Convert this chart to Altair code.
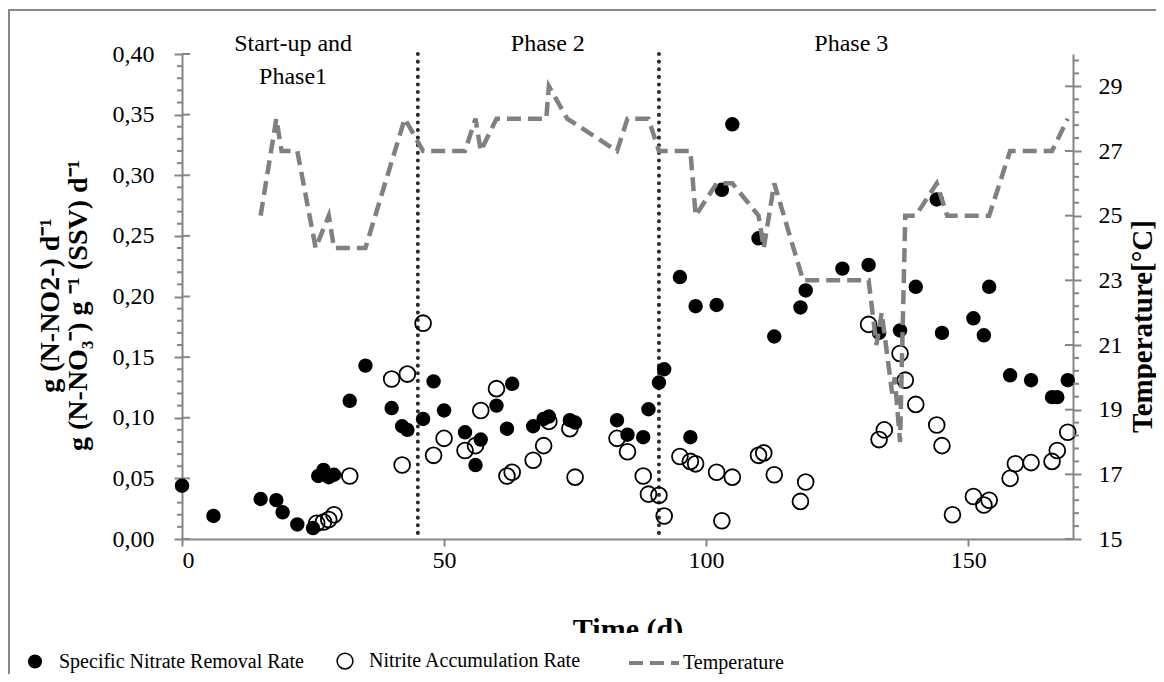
import altair as alt
import pandas as pd

# ---------------- data ----------------
S1 = "Specific Nitrate Removal Rate"
S2 = "Nitrite Accumulation Rate"
S3 = "Temperature"

nitrate_days = [0, 6, 15, 18, 19.2, 22, 25, 26, 27, 28, 29,
                32, 35, 40, 42, 43, 46, 48, 50,
                54, 56, 57, 60, 62, 63, 67, 69, 70, 74, 75,
                83, 85, 88, 89, 91, 92, 95, 97, 98, 102, 103, 105,
                110, 113, 118, 119, 126, 131, 133, 137, 140, 144, 145,
                151, 153, 154, 158, 162, 166, 167, 169]
nitrate_vals = [0.044, 0.019, 0.033, 0.032, 0.022, 0.012, 0.009, 0.052, 0.057, 0.051, 0.053,
                0.114, 0.143, 0.108, 0.093, 0.090, 0.099, 0.130, 0.106,
                0.088, 0.061, 0.082, 0.110, 0.091, 0.128, 0.093, 0.099, 0.101, 0.098, 0.096,
                0.098, 0.086, 0.084, 0.107, 0.129, 0.140, 0.216, 0.084, 0.192, 0.193, 0.288, 0.342,
                0.248, 0.167, 0.191, 0.205, 0.223, 0.226, 0.170, 0.172, 0.208, 0.280, 0.170,
                0.182, 0.168, 0.208, 0.135, 0.131, 0.117, 0.117, 0.131]

nitrite_days = [25.7, 27, 28, 29, 32,
                40, 42, 43, 46, 48, 50,
                54, 56, 57, 60, 62, 63, 67, 69, 70, 74, 75,
                83, 85, 88, 89, 91, 92,
                95, 97, 98, 102, 103, 105,
                110, 111, 113, 118, 119,
                131, 133, 134, 137, 138, 140,
                144, 145, 147, 151, 153, 154,
                158, 159, 162, 166, 167, 169]
nitrite_vals = [0.013, 0.014, 0.016, 0.020, 0.052,
                0.132, 0.061, 0.136, 0.178, 0.069, 0.083,
                0.073, 0.077, 0.106, 0.124, 0.052, 0.055, 0.065, 0.077, 0.097, 0.091, 0.051,
                0.083, 0.072, 0.052, 0.037, 0.036, 0.019,
                0.068, 0.064, 0.062, 0.055, 0.015, 0.051,
                0.069, 0.071, 0.053, 0.031, 0.047,
                0.177, 0.082, 0.090, 0.153, 0.131, 0.111,
                0.094, 0.077, 0.020, 0.035, 0.028, 0.032,
                0.050, 0.062, 0.063, 0.064, 0.073, 0.088]

temp_days = [15, 18, 19, 22, 25.5, 28, 29, 35, 42.5, 46,
             54, 56, 57, 60, 69.5, 70, 73.5, 83, 85, 89,
             91, 97, 98, 102, 105, 110, 111, 113, 118.5, 131,
             132.5, 133.5, 135.5, 136, 137, 138, 140, 144, 146, 154,
             158, 166, 169]
temp_vals = [25, 28, 27, 27, 24, 25, 24, 24, 28, 27,
             27, 28, 27, 28, 28, 29, 28, 27, 28, 28,
             27, 27, 25, 26, 26, 25, 24, 26, 23, 23,
             21, 22, 19.5, 20, 18, 25, 25, 26, 25, 25,
             27, 27, 28]

phase_bounds = [45, 91]
phase_label_text = ["Start-up and", "Phase 2", "Phase 3"]
phase_label_days = [21.2, 69.8, 127.7]
phase_sub_text = ["Phase1"]
phase_sub_days = [21.2]

x_ticks = [0, 50, 100, 150]
left_ticks = [0.0, 0.05, 0.10, 0.15, 0.20, 0.25, 0.30, 0.35, 0.40]
right_ticks = [15, 17, 19, 21, 23, 25, 27, 29]
left_minor = [round(i * 0.01, 2) for i in range(41) if i % 5]
right_minor = [round(15 + i * 0.4, 1) for i in range(38) if i % 5]

# ---------------- layout / style ----------------
FONT = "Liberation Serif"
W, H = 891, 485
AX = "#868686"
GREY = "#808080"

points = pd.DataFrame({
    "day": nitrate_days + nitrite_days,
    "value": nitrate_vals + nitrite_vals,
    "series": [S1] * len(nitrate_days) + [S2] * len(nitrite_days),
})
temp_df = pd.DataFrame({"day": temp_days, "temp": temp_vals, "line": [S3] * len(temp_days)})
bounds_df = pd.DataFrame({"day": phase_bounds})
labels_df = pd.DataFrame({"day": phase_label_days, "text": phase_label_text})
sub_df = pd.DataFrame({"day": phase_sub_days, "text": phase_sub_text})
lmin_df = pd.DataFrame({"value": left_minor})
lmaj_df = pd.DataFrame({"value": left_ticks})
rmin_df = pd.DataFrame({"temp": right_minor})
rmaj_df = pd.DataFrame({"temp": right_ticks})

x_scale = alt.Scale(domain=[0, 170], nice=False, zero=False)
left_scale = alt.Scale(domain=[0, 0.4], nice=False, zero=False)
right_scale = alt.Scale(domain=[15, 30], nice=False, zero=False)

x_axis = alt.Axis(values=x_ticks, title="Time (d)", grid=False,
                  domainColor=AX, domainWidth=2, tickColor=AX, tickWidth=2, tickSize=7,
                  labelFont=FONT, labelFontSize=24, labelColor="black", labelPadding=2,
                  titleFont=FONT, titleFontSize=30, titleFontWeight="bold", titleColor="black",
                  titleY=99, titleBaseline="alphabetic")

left_axis = alt.Axis(values=left_ticks, grid=False,
                     labelExpr="replace(format(datum.value, '.2f'), '.', ',')",
                     title=["g (N-NO2-) d\u207b\u00b9", "g (N-NO\u2083\u207b) g \u207b\u00b9 (SSV) d\u207b\u00b9"],
                     domainColor=AX, domainWidth=2, tickColor=AX, tickWidth=2, tickSize=8,
                     labelFont=FONT, labelFontSize=24, labelColor="black", labelPadding=20,
                     titleFont=FONT, titleFontSize=28, titleFontWeight="bold", titleColor="black",
                     titleAngle=270, titleX=-132, titleY=251, titleAlign="center",
                     titleBaseline="middle", titleLineHeight=28)

right_axis = alt.Axis(values=right_ticks, grid=False, orient="right", format="d",
                      title="Temperature[\u00b0C]",
                      domainColor=AX, domainWidth=2, tickColor=AX, tickWidth=2, tickSize=8,
                      labelFont=FONT, labelFontSize=24, labelColor="black", labelPadding=17,
                      titleFont=FONT, titleFontSize=29, titleFontWeight="bold", titleColor="black",
                      titleAngle=270, titleX=69, titleY=272, titleAlign="center",
                      titleBaseline="middle")

pt_legend = alt.Legend(title=None, orient="none", direction="horizontal",
                       legendX=-157, legendY=597, labelFont=FONT, labelFontSize=20,
                       labelColor="black", labelLimit=600, labelOffset=14,
                       columnPadding=30, symbolStrokeWidth=1.5,
                       symbolType="circle", padding=0)
tmp_legend = alt.Legend(title=None, orient="none", direction="horizontal",
                        legendX=445, legendY=582, labelFont=FONT, labelFontSize=20,
                        labelColor="black", labelLimit=600, labelOffset=2,
                        symbolType="stroke", symbolSize=2500, symbolStrokeWidth=4,
                        symbolDash=[8, 4], padding=0)

X = alt.X("day:Q", scale=x_scale, axis=x_axis)

# outer frame and the strip that hides the lower part of the x title
frame_v = alt.Chart(lmaj_df).mark_rule(color=AX, strokeWidth=2).encode(
    x=alt.value(-173), y=alt.value(-44), y2=alt.value(H + 140))
frame_h = alt.Chart(lmaj_df).mark_rule(color=AX, strokeWidth=2).encode(
    x=alt.value(-174), x2=alt.value(W + 84), y=alt.value(-44))
mask = alt.Chart(lmaj_df).mark_rect(color="white").encode(
    x=alt.value(360), x2=alt.value(540), y=alt.value(579), y2=alt.value(594))

vlines = alt.Chart(bounds_df).mark_rule(color="#2b2b2b", strokeWidth=4, strokeCap="round",
                                         strokeDash=[0.1, 7.5]).encode(x=X)

lmin = alt.Chart(lmin_df).mark_rule(color=AX, strokeWidth=2).encode(
    y=alt.Y("value:Q", scale=left_scale, axis=left_axis), x=alt.value(-5), x2=alt.value(0))
lmaj = alt.Chart(lmaj_df).mark_rule(color=AX, strokeWidth=2).encode(
    y=alt.Y("value:Q", scale=left_scale, axis=left_axis), x=alt.value(0), x2=alt.value(8))

pts = alt.Chart(points).mark_point(shape="circle", filled=False,
                                   strokeWidth=1.8, opacity=1).encode(
    x=X,
    y=alt.Y("value:Q", scale=left_scale, axis=left_axis),
    stroke=alt.Stroke("series:N", scale=alt.Scale(domain=[S1, S2], range=["black", "black"]),
                      legend=pt_legend),
    fill=alt.Fill("series:N", scale=alt.Scale(domain=[S1, S2], range=["black", "transparent"]),
                  legend=pt_legend),
    size=alt.Size("series:N", scale=alt.Scale(domain=[S1, S2], range=[160, 250]),
                  legend=pt_legend),
)

txt = alt.Chart(labels_df).mark_text(font=FONT, fontSize=24, color="black",
                                     baseline="middle", align="center").encode(
    x=X, y=alt.value(-10), text="text:N")
txt2 = alt.Chart(sub_df).mark_text(font=FONT, fontSize=24, color="black",
                                   baseline="middle", align="center").encode(
    x=X, y=alt.value(23), text="text:N")

left = alt.layer(frame_v, frame_h, mask, vlines, lmin, lmaj, pts, txt, txt2)

tline = alt.Chart(temp_df).mark_line(strokeWidth=4.5).encode(
    x=X,
    y=alt.Y("temp:Q", scale=right_scale, axis=right_axis),
    stroke=alt.Stroke("line:N", scale=alt.Scale(domain=[S3], range=[GREY]), legend=tmp_legend),
    strokeDash=alt.StrokeDash("line:N", scale=alt.Scale(domain=[S3], range=[[14, 7]]),
                              legend=tmp_legend),
)
rmin = alt.Chart(rmin_df).mark_rule(color=AX, strokeWidth=2).encode(
    y=alt.Y("temp:Q", scale=right_scale, axis=right_axis), x=alt.value(W), x2=alt.value(W + 6))
rmaj = alt.Chart(rmaj_df).mark_rule(color=AX, strokeWidth=2).encode(
    y=alt.Y("temp:Q", scale=right_scale, axis=right_axis), x=alt.value(W - 8), x2=alt.value(W))

right = alt.layer(rmin, rmaj, tline)

chart = alt.layer(left, right).resolve_scale(
    y="independent", stroke="independent", fill="independent",
    size="independent", strokeDash="independent"
).properties(
    width=W, height=H,
    autosize=alt.AutoSizeParams(type="none"),
    padding={"left": 174, "top": 46, "right": 83, "bottom": 135},
).configure_view(stroke=None)

chart.save("out.html", embed_options={"renderer": "svg", "actions": False})
